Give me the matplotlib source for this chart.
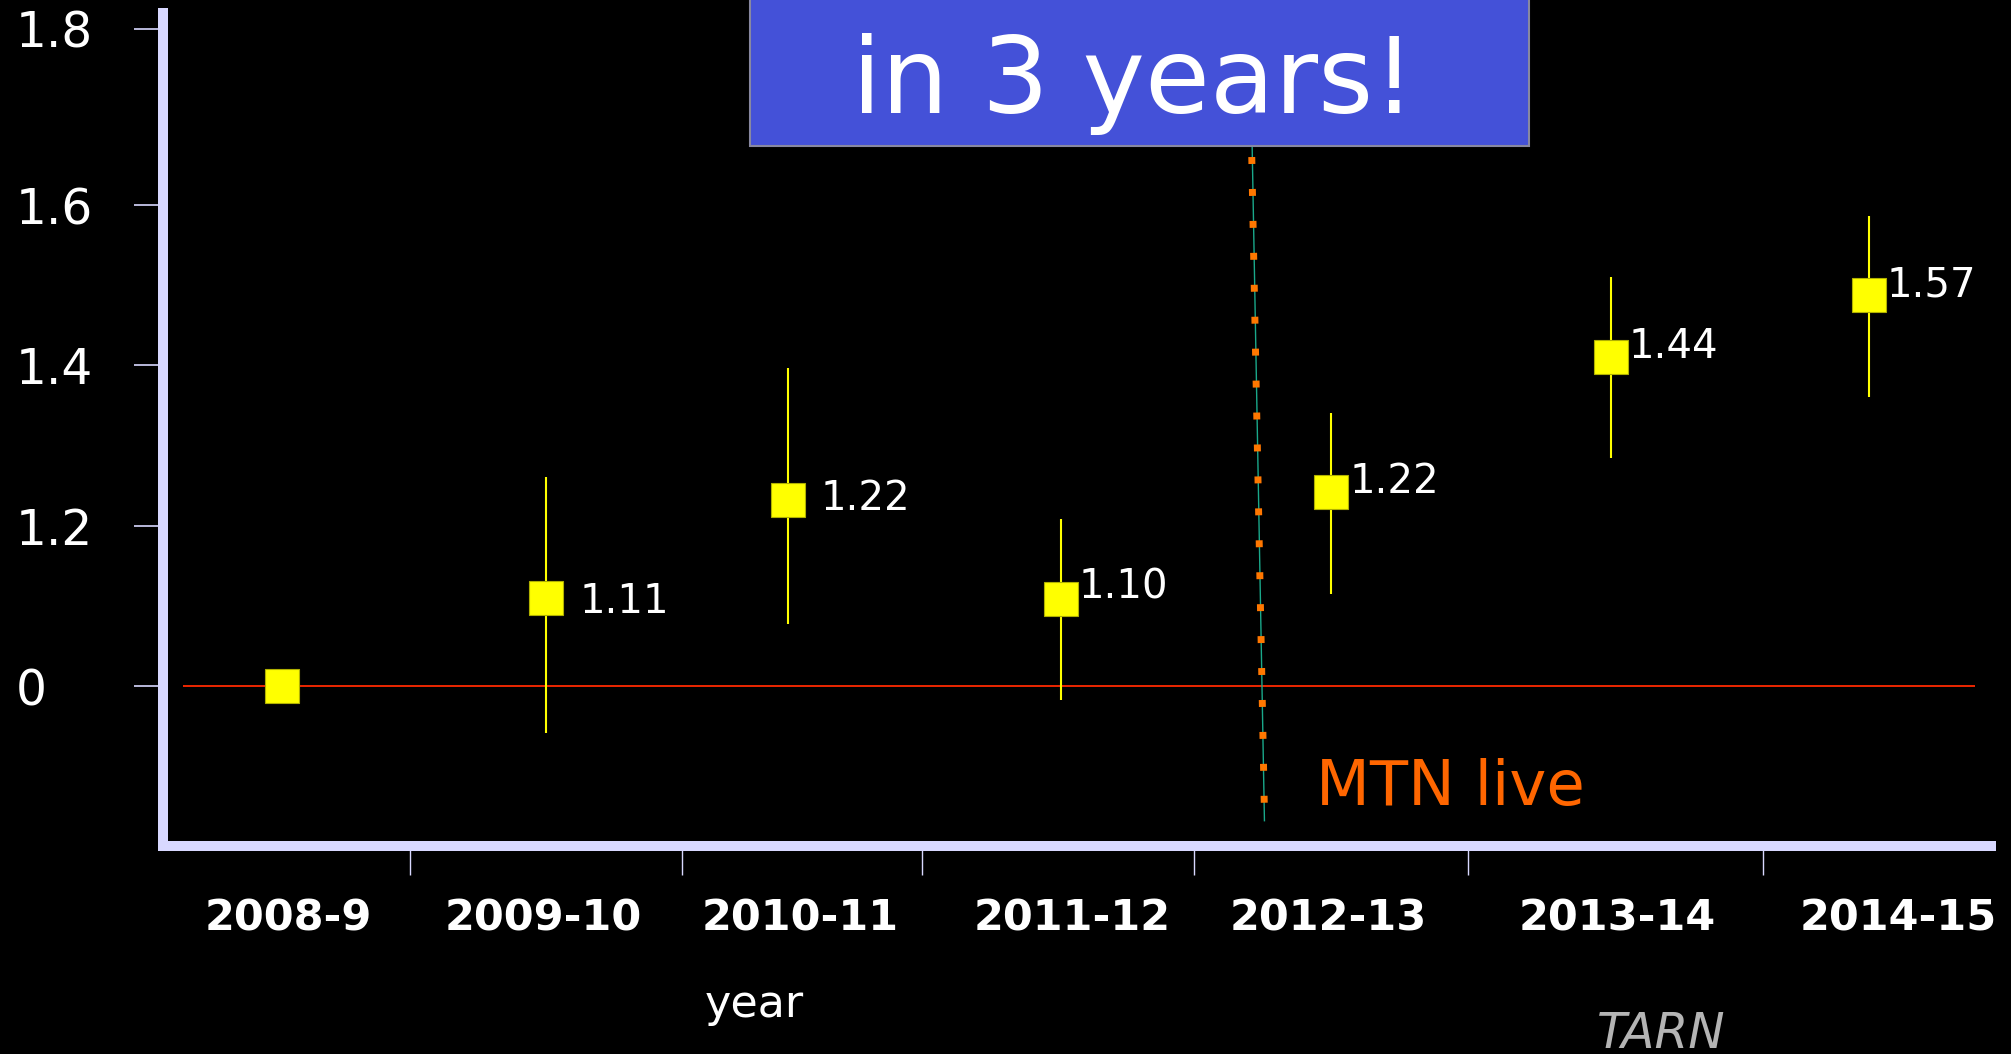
import numpy as np
import matplotlib
matplotlib.use("Agg")
from matplotlib import pyplot as plt
from matplotlib.patches import Rectangle

# data
years = ['2008-9', '2009-10', '2010-11', '2011-12', '2012-13', '2013-14', '2014-15']
x_pos = [0.0, 1.0, 1.913, 2.947, 3.971, 5.029, 6.005]
label_pos = [0.024, 0.99, 1.961, 2.99, 3.961, 5.053, 6.117]
boundaries = [0.485, 1.515, 2.422, 3.451, 4.49, 5.607]
ratio = [1.0, 1.11, 1.232, 1.109, 1.242, 1.411, 1.488]
err_high = [1.0, 1.261, 1.397, 1.208, 1.341, 1.51, 1.586]
err_low = [1.0, 0.942, 1.078, 0.982, 1.115, 1.285, 1.36]
point_labels = ['', '1.11', '1.22', '1.10', '1.22', '1.44', '1.57']
label_offsets = [(0, 0), (24, -3), (24, 1), (13, 8), (13, 7), (13, 7), (13, 7)]

y_ticks = [1.0, 1.2, 1.4, 1.6, 1.82]
y_tick_labels = ['0', '1.2', '1.4', '1.6', '1.8']

mtn_x = [3.670, 3.718]
mtn_y = [1.70, 0.832]

axis_col = '#d8d8ff'

fig = plt.figure(figsize=(20.11, 10.54), dpi=100, facecolor='black')
ax = fig.add_axes([0.0812, 0.197, 0.9091, 0.7909])
ax.set_facecolor('black')
ax.set_xlim(-0.45, 6.47)
ax.set_ylim(0.8, 1.84)

for s in ['top', 'right']:
    ax.spines[s].set_visible(False)
for s in ['left', 'bottom']:
    ax.spines[s].set_color(axis_col)
    ax.spines[s].set_linewidth(7.2)
    ax.spines[s].set_capstyle('projecting')

# y ticks, labels left aligned at the slide edge
ax.set_yticks(y_ticks)
ax.set_yticklabels(y_tick_labels)
ax.tick_params(axis='y', direction='out', length=21, width=1.2, color=axis_col,
               labelcolor='white', labelsize=35, pad=85)
for lab in ax.get_yticklabels():
    lab.set_horizontalalignment('left')

# x ticks: marks at the boundaries, labels under the points
ax.set_xticks(boundaries)
ax.set_xticklabels([])
ax.set_xticks(label_pos, minor=True)
ax.set_xticklabels(years, minor=True)
ax.tick_params(axis='x', which='major', direction='out', length=21, width=1.0, color=axis_col)
ax.tick_params(axis='x', which='minor', length=0, pad=52, labelcolor='white', labelsize=31)
for lab in ax.get_xticklabels(minor=True):
    lab.set_fontweight('bold')
    lab.set_verticalalignment('center')

# baseline
ax.hlines(1.0, -0.374, 6.408, color='#ff2a00', lw=1.3, zorder=2)

# MTN live marker line
ax.plot(mtn_x, mtn_y, color='#1aa88a', lw=1.0, zorder=3)
ax.plot([mtn_x[0], mtn_x[1]], [1.66, mtn_y[1] + 0.01], color='#ff7700', lw=5,
        linestyle=(0, (1, 3.6)), dash_capstyle='butt', zorder=4)
ax.text(3.913, 0.851, 'MTN live', color='#ff6600', fontsize=45, va='baseline', ha='left')

# error bars and points
yerr = [np.array(ratio) - np.array(err_low), np.array(err_high) - np.array(ratio)]
ax.errorbar(x_pos, ratio, yerr=yerr, fmt='none', ecolor='#ffff00', elinewidth=1.5,
            capsize=0, zorder=5)
ax.plot(x_pos, ratio, 's', color='#ffff00', markersize=24.5, markeredgecolor='#b0b000',
        markeredgewidth=0.8, zorder=6)

for k in range(len(x_pos)):
    if point_labels[k]:
        ax.annotate(point_labels[k], (x_pos[k], ratio[k]), xytext=label_offsets[k],
                    textcoords='offset points', color='white', fontsize=29,
                    va='center', ha='left', zorder=7)

# title box
fig.patches.append(Rectangle((750 / 2011, 1 - 146 / 1054), 779 / 2011, 0.2,
                             transform=fig.transFigure, facecolor='#4451d8',
                             edgecolor='#8888a0', lw=1.5, zorder=10))
fig.text(1134 / 2011, 1 - 113 / 1054, 'in 3 years!', color='white', fontsize=76,
         ha='center', va='baseline', zorder=11)

fig.text(754 / 2011, 1 - 1005 / 1054, 'year', color='white', fontsize=32,
         ha='center', va='center')
fig.text(1597 / 2011, 1 - 1048 / 1054, 'TARN', color='#b4b4b4', fontsize=35,
         style='italic', ha='left', va='baseline')

fig.savefig('out.png', dpi=100, facecolor='black')
